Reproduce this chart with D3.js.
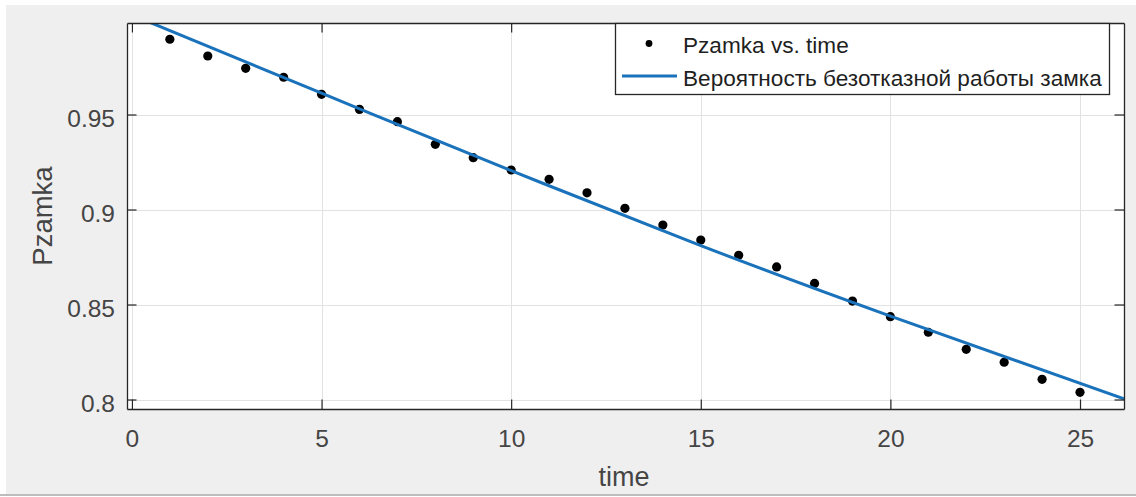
<!DOCTYPE html>
<html>
<head>
<meta charset="utf-8">
<script src="https://cdn.jsdelivr.net/npm/d3@7"></script>
<style>
  body { margin: 0; background: #fff; }
  svg { display: block; font-family: "Liberation Sans", Arial, Helvetica, sans-serif; }
</style>
</head>
<body>
<div id="chart"></div>
<script>
// measured data (time vs. Pzamka)
const time = [1, 2, 3, 4, 5, 6, 7, 8, 9, 10, 11, 12, 13, 14, 15, 16, 17, 18, 19, 20, 21, 22, 23, 24, 25];
const pzamka = [0.9896, 0.9808, 0.9743, 0.9696, 0.9606, 0.9527, 0.9462, 0.9343, 0.9273, 0.9208,
                0.9159, 0.9088, 0.9006, 0.8918, 0.8839, 0.8759, 0.8698, 0.8611, 0.8518, 0.8436,
                0.8354, 0.8264, 0.8196, 0.8106, 0.8038];

// fitted curve
const fitTime = [0, 5, 10, 15, 20, 26.16];
const fitP = [1.0024, 0.9612, 0.9205, 0.8810, 0.8439, 0.8003];

const xTicks = [0, 5, 10, 15, 20, 25];
const yTicks = [0.8, 0.85, 0.9, 0.95];
const xDomain = [-0.13, 26.16];
const yDomain = [0.795, 0.99816];

const legendLabels = ["Pzamka vs. time", "Вероятность безотказной работы замка"];

const W = 1136, H = 497;
const box = {left: 127, right: 1124, top: 23, bottom: 409};
const ink = "#262626";
const txt = "#454545";
const blue = "#1a72bb";

const svg = d3.select("#chart").append("svg")
    .attr("width", W)
    .attr("height", H);

// figure background
svg.append("rect").attr("x", 6).attr("y", 5).attr("width", W - 6).attr("height", 489).attr("fill", "#f0efef");
svg.append("line").attr("x1", 0).attr("x2", W).attr("y1", 495).attr("y2", 495)
    .attr("stroke", "#bdbdbd").attr("stroke-width", 2);

const x = d3.scaleLinear().domain(xDomain).range([box.left, box.right]);
const y = d3.scaleLinear().domain(yDomain).range([box.bottom, box.top]);

// plot area
svg.append("rect")
    .attr("x", box.left).attr("y", box.top)
    .attr("width", box.right - box.left).attr("height", box.bottom - box.top)
    .attr("fill", "#fff");

svg.append("clipPath").attr("id", "clip")
    .append("rect")
    .attr("x", box.left).attr("y", box.top)
    .attr("width", box.right - box.left).attr("height", box.bottom - box.top);

// grid
const grid = svg.append("g").attr("stroke", "#e2e2e2").attr("stroke-width", 1);
grid.selectAll(".gx").data(xTicks).join("line")
    .attr("x1", d => Math.round(x(d)) + 0.5).attr("x2", d => Math.round(x(d)) + 0.5)
    .attr("y1", box.top).attr("y2", box.bottom);
grid.selectAll(".gy").data(yTicks).join("line")
    .attr("y1", d => Math.round(y(d)) + 0.5).attr("y2", d => Math.round(y(d)) + 0.5)
    .attr("x1", box.left).attr("x2", box.right);

// data points
svg.append("g").selectAll("circle")
    .data(time.map((t, i) => ({t: t, p: pzamka[i]})))
    .join("circle")
    .attr("cx", d => x(d.t))
    .attr("cy", d => y(d.p))
    .attr("r", 4.6)
    .attr("fill", "#000");

// fit line
const line = d3.line()
    .x(d => x(d.t))
    .y(d => y(d.p))
    .curve(d3.curveNatural);

svg.append("path")
    .datum(fitTime.map((t, i) => ({t: t, p: fitP[i]})))
    .attr("clip-path", "url(#clip)")
    .attr("fill", "none")
    .attr("stroke", blue)
    .attr("stroke-width", 3)
    .attr("d", line);

// axes (MATLAB style: ticks inside, box on)
const tick = 9.5;
function styleAxis(g) {
    g.attr("font-family", null).attr("font-size", null);
    g.select(".domain").attr("stroke", ink).attr("stroke-width", 1.3);
    g.selectAll(".tick line").attr("stroke", ink).attr("stroke-width", 1.2);
    g.selectAll(".tick text").attr("fill", txt).style("font-size", "24.5px");
}

svg.append("g")
    .attr("transform", `translate(0,${box.bottom})`)
    .call(d3.axisBottom(x).tickValues(xTicks).tickSizeInner(-tick).tickSizeOuter(0).tickPadding(20.5).tickFormat(d3.format("d")))
    .call(styleAxis);

svg.append("g")
    .attr("transform", `translate(0,${box.top})`)
    .call(d3.axisTop(x).tickValues(xTicks).tickSizeInner(-tick).tickSizeOuter(0).tickFormat(""))
    .call(styleAxis);

svg.append("g")
    .attr("transform", `translate(${box.left},0)`)
    .call(d3.axisLeft(y).tickValues(yTicks).tickSizeInner(-tick).tickSizeOuter(0).tickPadding(12).tickFormat(d => String(d)))
    .call(styleAxis)
    .call(g => g.selectAll(".tick text").attr("dy", "0.48em"));

svg.append("g")
    .attr("transform", `translate(${box.right},0)`)
    .call(d3.axisRight(y).tickValues(yTicks).tickSizeInner(-tick).tickSizeOuter(0).tickFormat(""))
    .call(styleAxis);

// axis labels
svg.append("text")
    .attr("x", (x(0) + x(25)) / 2 + 18)
    .attr("y", 486)
    .attr("text-anchor", "middle")
    .attr("fill", txt)
    .style("font-size", "27px")
    .text("time");

svg.append("text")
    .attr("transform", `translate(52,${216}) rotate(-90)`)
    .attr("text-anchor", "middle")
    .attr("fill", txt)
    .style("font-size", "27.5px")
    .text("Pzamka");

// legend
const leg = svg.append("g");
leg.append("rect")
    .attr("x", 615.5).attr("y", 23.5)
    .attr("width", 494).attr("height", 71)
    .attr("fill", "#fff")
    .attr("stroke", ink)
    .attr("stroke-width", 1.3);

leg.append("circle").attr("cx", 649).attr("cy", 43.5).attr("r", 3.4).attr("fill", "#000");
leg.append("line")
    .attr("x1", 622).attr("x2", 677).attr("y1", 76).attr("y2", 76)
    .attr("stroke", blue).attr("stroke-width", 3);

leg.selectAll("text").data(legendLabels).join("text")
    .attr("x", 683)
    .attr("y", (d, i) => 53 + i * 33)
    .attr("fill", "#1f1f1f")
    .style("font-size", "22.6px")
    .text(d => d);
</script>
</body>
</html>
